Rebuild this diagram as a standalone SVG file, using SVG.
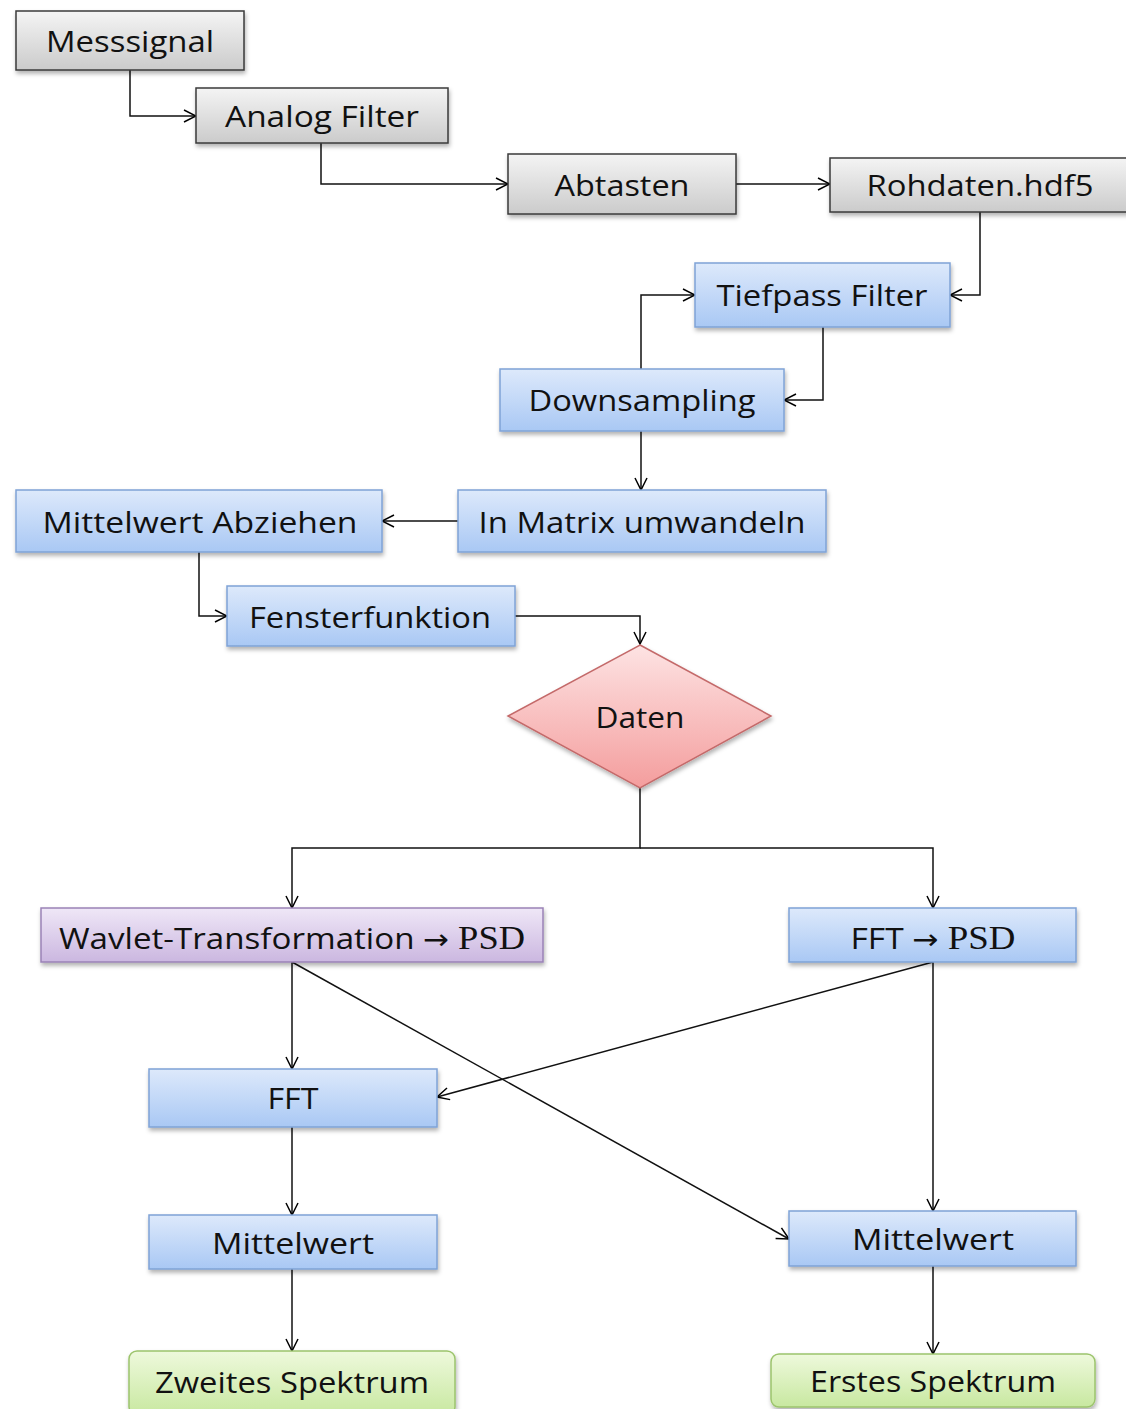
<svg xmlns="http://www.w3.org/2000/svg" width="1126" height="1409" viewBox="0 0 1126 1409">
<defs>
<linearGradient id="gGray" x1="0" y1="0" x2="0" y2="1"><stop offset="0" stop-color="#f4f4f4"/><stop offset="1" stop-color="#cbcbcb"/></linearGradient>
<linearGradient id="gBlue" x1="0" y1="0" x2="0" y2="1"><stop offset="0" stop-color="#dde9fb"/><stop offset="1" stop-color="#a9c8f4"/></linearGradient>
<linearGradient id="gPurple" x1="0" y1="0" x2="0" y2="1"><stop offset="0" stop-color="#efe7f7"/><stop offset="1" stop-color="#cbb7e0"/></linearGradient>
<linearGradient id="gGreen" x1="0" y1="0" x2="0" y2="1"><stop offset="0" stop-color="#eef9dc"/><stop offset="1" stop-color="#c8e8a0"/></linearGradient>
<linearGradient id="gRed" x1="0" y1="0" x2="0" y2="1"><stop offset="0" stop-color="#fde3e3"/><stop offset="1" stop-color="#f49d9d"/></linearGradient>
<filter id="sh" x="-10%" y="-20%" width="120%" height="150%"><feDropShadow dx="1" dy="3" stdDeviation="2" flood-color="#000" flood-opacity="0.3"/></filter>
<marker id="arr" viewBox="0 0 16 16" refX="15" refY="8" markerWidth="16" markerHeight="16" markerUnits="userSpaceOnUse" orient="auto"><path d="M3,2 L15,8 L3,14" fill="none" stroke="#000" stroke-width="1.5"/></marker>
<style>
.gray{fill:url(#gGray);stroke:#3a3a3a;stroke-width:1.5;filter:url(#sh)}
.blue{fill:url(#gBlue);stroke:#7fa3d6;stroke-width:1.5;filter:url(#sh)}
.purple{fill:url(#gPurple);stroke:#9a82b6;stroke-width:1.5;filter:url(#sh)}
.green{fill:url(#gGreen);stroke:#9cc46c;stroke-width:1.5;filter:url(#sh)}
.red{fill:url(#gRed);stroke:#c46a6a;stroke-width:1.5;filter:url(#sh)}
text{font-family:"Open Sans","Liberation Sans",sans-serif;font-size:30px;fill:#111;text-anchor:middle}
.serif{font-family:"Liberation Serif",serif;font-size:33px}
.arrowglyph{font-family:"DejaVu Sans",sans-serif;font-size:28px}
.c{fill:none;stroke:#111;stroke-width:1.5;marker-end:url(#arr)}
</style>
</defs>
<g id="connectors">
<path class="c" d="M130,70 V116 H196"/>
<path class="c" d="M321,143 V184 H508"/>
<path class="c" d="M736,184 H830"/>
<path class="c" d="M980,212 V295 H950"/>
<path class="c" d="M823,327 V400 H784"/>
<path class="c" d="M641,369 V295 H695"/>
<path class="c" d="M641,431 V490"/>
<path class="c" d="M458,521 H382"/>
<path class="c" d="M199,552 V616 H227"/>
<path class="c" d="M515,616 H640 V644"/>
<path class="c" d="M640,788 V848 H292 V908"/>
<path class="c" d="M640,848 H933 V908"/>
<path class="c" d="M292,962 V1069"/>
<path class="c" d="M933,962 L437,1097"/>
<path class="c" d="M292,962 L789,1239"/>
<path class="c" d="M933,962 V1211"/>
<path class="c" d="M292,1127 V1215"/>
<path class="c" d="M292,1269 V1351"/>
<path class="c" d="M933,1266 V1354"/>
</g>
<g id="n-messsignal"><rect class="gray" x="16" y="11" width="228" height="59"/><text x="130" y="52" textLength="168" lengthAdjust="spacingAndGlyphs">Messsignal</text></g>
<g id="n-analog"><rect class="gray" x="196" y="88" width="252" height="55"/><text x="322" y="127" textLength="194" lengthAdjust="spacingAndGlyphs">Analog Filter</text></g>
<g id="n-abtasten"><rect class="gray" x="508" y="154" width="228" height="60"/><text x="622" y="196" textLength="135" lengthAdjust="spacingAndGlyphs">Abtasten</text></g>
<g id="n-rohdaten"><rect class="gray" x="830" y="158" width="300" height="54"/><text x="980" y="196" textLength="227" lengthAdjust="spacingAndGlyphs">Rohdaten.hdf5</text></g>
<g id="n-tiefpass"><rect class="blue" x="695" y="263" width="255" height="64"/><text x="822" y="306" textLength="211" lengthAdjust="spacingAndGlyphs">Tiefpass Filter</text></g>
<g id="n-downsampling"><rect class="blue" x="500" y="369" width="284" height="62"/><text x="642" y="411" textLength="227" lengthAdjust="spacingAndGlyphs">Downsampling</text></g>
<g id="n-matrix"><rect class="blue" x="458" y="490" width="368" height="62"/><text x="642" y="533" textLength="327" lengthAdjust="spacingAndGlyphs">In Matrix umwandeln</text></g>
<g id="n-abziehen"><rect class="blue" x="16" y="490" width="366" height="62"/><text x="200" y="533" textLength="315" lengthAdjust="spacingAndGlyphs">Mittelwert Abziehen</text></g>
<g id="n-fenster"><rect class="blue" x="227" y="586" width="288" height="60"/><text x="370" y="628" textLength="242" lengthAdjust="spacingAndGlyphs">Fensterfunktion</text></g>
<g id="n-daten"><polygon class="red" points="640,645 771,716 640,788 508,716"/><text x="640" y="728" textLength="89" lengthAdjust="spacingAndGlyphs">Daten</text></g>
<g id="n-wavelet"><rect class="purple" x="41" y="908" width="502" height="54"/><text x="292" y="949" textLength="466" lengthAdjust="spacingAndGlyphs"><tspan>Wavlet-Transformation </tspan><tspan class="arrowglyph">→</tspan><tspan class="serif"> PSD</tspan></text></g>
<g id="n-fftpsd"><rect class="blue" x="789" y="908" width="287" height="54"/><text x="933" y="949" textLength="165" lengthAdjust="spacingAndGlyphs"><tspan>FFT </tspan><tspan class="arrowglyph">→</tspan><tspan class="serif"> PSD</tspan></text></g>
<g id="n-fft"><rect class="blue" x="149" y="1069" width="288" height="58"/><text x="293" y="1109" textLength="51" lengthAdjust="spacingAndGlyphs">FFT</text></g>
<g id="n-mittel-l"><rect class="blue" x="149" y="1215" width="288" height="54"/><text x="293" y="1254" textLength="162" lengthAdjust="spacingAndGlyphs">Mittelwert</text></g>
<g id="n-mittel-r"><rect class="blue" x="789" y="1211" width="287" height="55"/><text x="933" y="1250" textLength="162" lengthAdjust="spacingAndGlyphs">Mittelwert</text></g>
<g id="n-zweites"><rect class="green" x="129" y="1351" width="326" height="64" rx="8"/><text x="292" y="1393" textLength="274" lengthAdjust="spacingAndGlyphs">Zweites Spektrum</text></g>
<g id="n-erstes"><rect class="green" x="771" y="1354" width="324" height="53" rx="8"/><text x="933" y="1392" textLength="246" lengthAdjust="spacingAndGlyphs">Erstes Spektrum</text></g>
</svg>
